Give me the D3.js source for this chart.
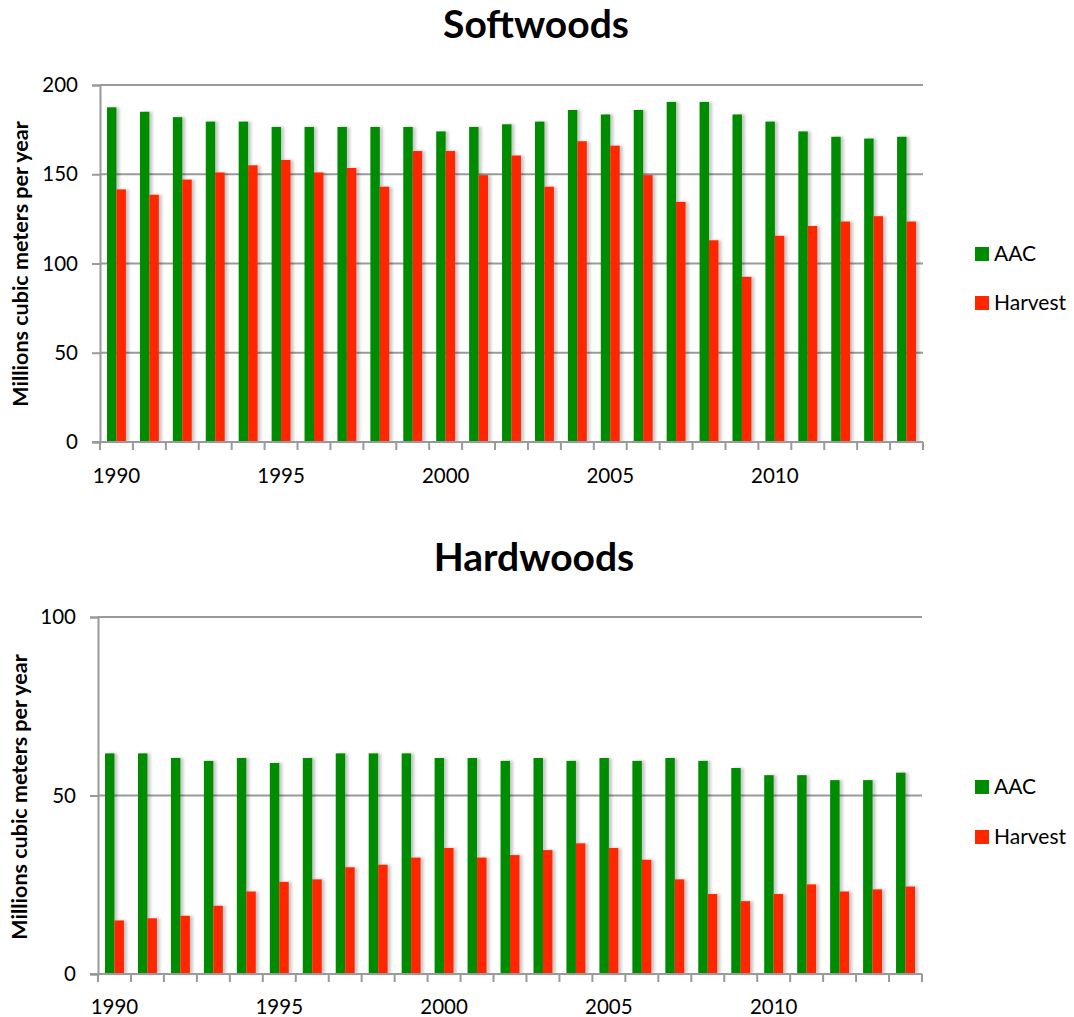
<!DOCTYPE html>
<html>
<head>
<meta charset="utf-8">
<script src="https://cdn.jsdelivr.net/npm/d3@7"></script>
<style>
  html, body { margin: 0; padding: 0; background: #fff; }
  svg { display: block; font-family: Lato, "Open Sans", "DejaVu Sans", sans-serif; }
</style>
</head>
<body>
<svg id="chart" width="1074" height="1017"></svg>
<script>
// Years on the category axis
const years = d3.range(1990, 2015);
// Every fifth year is labelled
const yearLabels = [1990, 1995, 2000, 2005, 2010];

// Series names and colours
const seriesNames = ["AAC", "Harvest"];
const seriesColors = ["#008c00", "#ff2600"];

// Softwoods, millions of cubic meters per year
const softAAC = [187.5, 185, 182, 179.5, 179.5, 176.5, 176.5, 176.5, 176.5, 176.5,
                 174, 176.5, 178, 179.5, 186, 183.5, 186, 190.5, 190.5, 183.5,
                 179.5, 174, 171, 170, 171];
const softHarvest = [141.5, 138.5, 147, 151, 155, 158, 151, 153.5, 143, 163,
                     163, 149.5, 160.5, 143, 168.5, 166, 149.5, 134.5, 113, 92.5,
                     115.5, 121, 123.5, 126.5, 123.5];
const softTicks = [0, 50, 100, 150, 200];

// Hardwoods, millions of cubic meters per year
const hardAAC = [61.8, 61.8, 60.5, 59.7, 60.5, 59.1, 60.5, 61.8, 61.8, 61.8,
                 60.5, 60.5, 59.7, 60.5, 59.7, 60.5, 59.7, 60.5, 59.7, 57.7,
                 55.7, 55.7, 54.3, 54.3, 56.4];
const hardHarvest = [15.0, 15.6, 16.3, 19.1, 23.1, 25.8, 26.5, 29.9, 30.6, 32.6,
                     35.3, 32.6, 33.3, 34.7, 36.6, 35.3, 32.0, 26.5, 22.4, 20.4,
                     22.4, 25.1, 23.1, 23.7, 24.5];
const hardTicks = [0, 50, 100];

const yTitle = "Millions cubic meters per year";

const svg = d3.select("#chart");

// Soft shadow to the right of each bar
const defs = svg.append("defs");
const f = defs.append("filter").attr("id", "barShadow")
  .attr("x", "-50%").attr("y", "-10%").attr("width", "200%").attr("height", "120%");
f.append("feDropShadow").attr("dx", 3).attr("dy", 0).attr("stdDeviation", 1.6)
  .attr("flood-color", "#000").attr("flood-opacity", 0.22);

function drawPanel(p) {
  const g = svg.append("g");

  const x = d3.scaleBand().domain(years).range([p.left, p.right]).padding(0);
  const xs = d3.scaleBand().domain(seriesNames).range([0, x.bandwidth()])
    .paddingInner(0).paddingOuter(0.74);
  const y = d3.scaleLinear().domain([0, p.max]).range([p.bottom, p.top]);

  // Title
  g.append("text").attr("x", p.titleX).attr("y", p.titleY)
    .attr("text-anchor", "middle").attr("font-weight", "bold")
    .attr("font-size", 39).attr("fill", "#000").text(p.title);

  // Horizontal gridlines
  g.append("g").selectAll("line").data(p.ticks.filter(t => t > 0)).join("line")
    .attr("x1", p.left).attr("x2", p.right)
    .attr("y1", d => y(d)).attr("y2", d => y(d))
    .attr("stroke", "#9a9a9a").attr("stroke-width", 2);

  // Bars
  const series = [p.aac, p.harvest];
  seriesNames.forEach((name, si) => {
    g.append("g").attr("filter", "url(#barShadow)")
      .selectAll("rect").data(years).join("rect")
      .attr("x", d => x(d) + xs(name))
      .attr("width", xs.bandwidth())
      .attr("y", (d, i) => y(series[si][i]))
      .attr("height", (d, i) => y(0) - y(series[si][i]))
      .attr("fill", seriesColors[si]);
  });

  // Y axis
  const yAxis = d3.axisLeft(y).tickValues(p.ticks).tickSize(8).tickPadding(14);
  const ya = g.append("g").attr("transform", `translate(${p.left},0)`).call(yAxis);
  ya.select(".domain").attr("stroke", "#9a9a9a").attr("stroke-width", 2);
  ya.selectAll(".tick line").attr("stroke", "#9a9a9a").attr("stroke-width", 2);
  ya.selectAll(".tick text").attr("font-size", 20.5).attr("fill", "#000")
    .attr("font-family", "Lato, 'Open Sans', sans-serif");

  // X axis: ticks on category boundaries, labels on every fifth year
  const xa = g.append("g").attr("transform", `translate(0,${p.bottom})`);
  xa.append("line").attr("x1", p.left - 8).attr("x2", p.right)
    .attr("stroke", "#9a9a9a").attr("stroke-width", 2);
  const bounds = years.map(d => x(d)).concat([p.right]);
  xa.selectAll("line.tk").data(bounds).join("line").attr("class", "tk")
    .attr("x1", d => d).attr("x2", d => d).attr("y1", 0).attr("y2", 8)
    .attr("stroke", "#9a9a9a").attr("stroke-width", 2);
  xa.selectAll("text").data(yearLabels).join("text")
    .attr("x", d => x(d) + x.bandwidth() / 2).attr("y", p.labelDy)
    .attr("text-anchor", "middle").attr("font-size", 20.5).attr("fill", "#000")
    .text(d => d);

  // Y axis title
  g.append("text")
    .attr("transform", `translate(${p.yTitleX},${p.yTitleY}) rotate(-90)`)
    .attr("text-anchor", "middle").attr("font-weight", "bold").attr("font-size", 21.5)
    .attr("fill", "#000").text(yTitle);

  // Legend
  const lg = g.append("g");
  seriesNames.forEach((name, si) => {
    const ly = p.legendY + si * p.legendGap;
    lg.append("rect").attr("x", 975).attr("y", ly - 7).attr("width", 14).attr("height", 14)
      .attr("fill", seriesColors[si]);
    lg.append("text").attr("x", 994).attr("y", ly).attr("dy", "0.35em")
      .attr("font-size", 21).attr("fill", "#000").text(name);
  });
}

drawPanel({
  title: "Softwoods", titleX: 536, titleY: 38,
  left: 100, right: 923, top: 85, bottom: 442, max: 200,
  ticks: softTicks, aac: softAAC, harvest: softHarvest,
  labelDy: 41, yTitleX: 28, yTitleY: 264, legendY: 254, legendGap: 49
});

drawPanel({
  title: "Hardwoods", titleX: 534, titleY: 571,
  left: 98, right: 922, top: 617, bottom: 974, max: 100,
  ticks: hardTicks, aac: hardAAC, harvest: hardHarvest,
  labelDy: 40, yTitleX: 27, yTitleY: 797, legendY: 787, legendGap: 50
});
</script>
</body>
</html>
